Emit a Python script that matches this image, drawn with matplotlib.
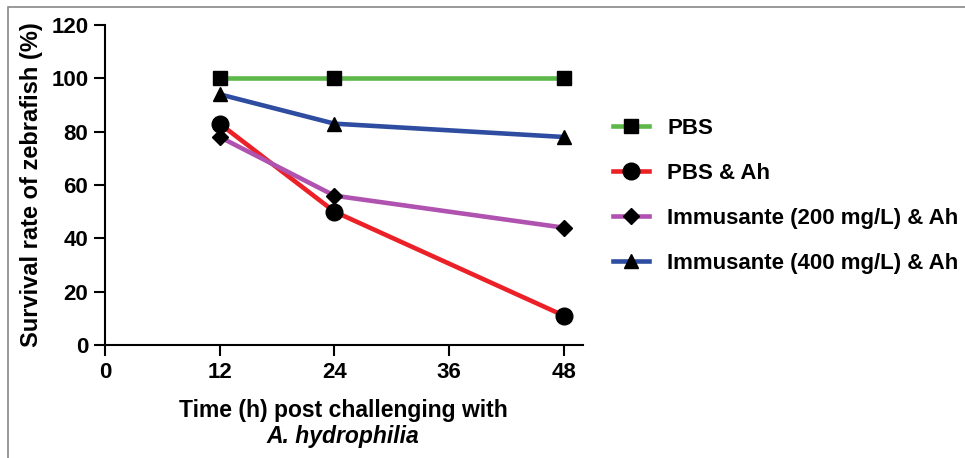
import matplotlib
matplotlib.use("Agg")
import matplotlib.pyplot as plt
from matplotlib.patches import Rectangle

plt.rcParams['font.family'] = ['Liberation Sans', 'DejaVu Sans']
plt.rcParams['font.weight'] = 'bold'

time_h = [12, 24, 48]
pbs = [100, 100, 100]
pbs_ah = [83, 50, 11]
imm200_ah = [78, 56, 44]
imm400_ah = [94, 83, 78]

labels = ["PBS", "PBS & Ah", "Immusante (200 mg/L) & Ah", "Immusante (400 mg/L) & Ah"]
colors = ["#5cb848", "#ec2127", "#b052b0", "#2f4da0"]
markers = ["s", "o", "D", "^"]
msizes = [10, 12, 8, 10]
series = [pbs, pbs_ah, imm200_ah, imm400_ah]

xticks = [0, 12, 24, 36, 48]
yticks = [0, 20, 40, 60, 80, 100, 120]

fig = plt.figure(figsize=(9.65, 4.58), dpi=100)
ax = fig.add_axes([105/965, 1-345/458, (583-105)/965, (345-25)/458])

handles = []
for vals, c, m, ms, lab in zip(series, colors, markers, msizes, labels):
    h, = ax.plot(time_h, vals, color=c, lw=3.3, marker=m, markersize=ms,
                 markerfacecolor='black', markeredgecolor='black', label=lab,
                 clip_on=False)
    handles.append(h)

ax.set_xlim(0, 50)
ax.set_ylim(0, 120)
ax.set_xticks(xticks)
ax.set_yticks(yticks)
ax.spines['top'].set_visible(False)
ax.spines['right'].set_visible(False)
for s in ['left', 'bottom']:
    ax.spines[s].set_linewidth(1.5)
ax.tick_params(axis='both', direction='out', length=8, width=1.5, labelsize=16)
for t in ax.get_xticklabels() + ax.get_yticklabels():
    t.set_fontweight('bold')
ax.tick_params(axis='x', pad=4)
ax.tick_params(axis='y', pad=4)

ax.set_ylabel("Survival rate of zebrafish (%)", fontsize=17, fontweight='bold', labelpad=6)
fig.text(343/965, 1-410/458, "Time (h) post challenging with", ha='center', va='center',
         fontsize=16.5, fontweight='bold')
fig.text(343/965, 1-437/458, "A. hydrophilia", ha='center', va='center',
         fontsize=16.5, fontweight='bold', style='italic')

leg = fig.legend(handles=handles, loc='upper left', bbox_to_anchor=(613/965, 1-118/458),
                 frameon=False, fontsize=16, labelspacing=1.08, handlelength=1.6,
                 handletextpad=0.85, borderpad=0, borderaxespad=0)
for t in leg.get_texts():
    t.set_fontweight('bold')

fig.patches.append(Rectangle((8/965, -0.05), 1.0, 1 - 7/458 + 0.05, transform=fig.transFigure,
                             fill=False, edgecolor='#888888', lw=1.2))

fig.savefig("out.png", dpi=100)
